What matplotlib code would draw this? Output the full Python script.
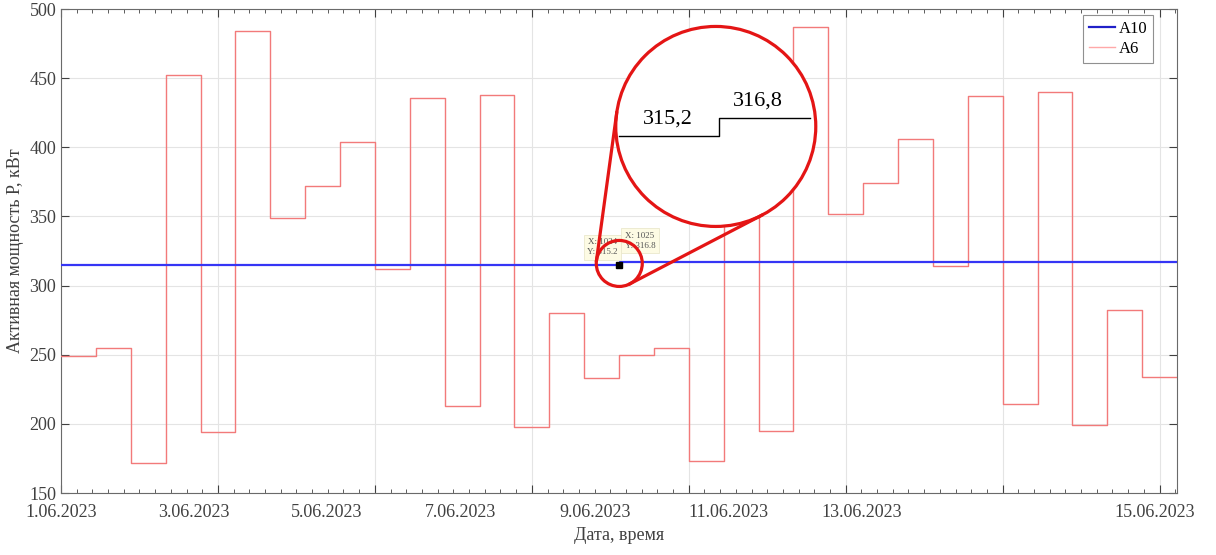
import numpy as np
import matplotlib
matplotlib.use("Agg")
import matplotlib.pyplot as plt
from matplotlib.patches import Circle
from matplotlib.lines import Line2D
from matplotlib.transforms import IdentityTransform, blended_transform_factory

plt.rcParams['font.family'] = ['Liberation Serif', 'DejaVu Serif']

# Data: 10-minute samples, A6 changes every 64 samples
a6_edges = np.arange(0, 2048 + 1, 64)
a6_values = [249, 254.5, 172, 452, 194, 484, 349, 372, 404, 312, 436, 213,
             438, 198, 280, 233, 250, 255, 173, 454, 195, 487, 352, 374,
             406, 314, 437, 214, 440, 199, 282, 234]
a10_x = [0, 1024, 1025, 2048]
a10_y = [315.2, 315.2, 316.8, 316.8]

date_labels = ['1.06.2023', '3.06.2023', '5.06.2023', '7.06.2023',
               '9.06.2023', '11.06.2023', '13.06.2023', '15.06.2023']
date_pos = [0, 244, 488, 734, 980, 1224, 1470, 2008]

tip1 = (1024, 315.2)
tip2 = (1025, 316.8)

W, H = 1216, 555
fig = plt.figure(figsize=(W / 100, H / 100), dpi=100)
ax = fig.add_axes([61 / W, 1 - 493 / H, (1177 - 61) / W, (493 - 9) / H])

ax.step(a10_x, a10_y, where='post', color='#3535f5', lw=1.6, label='A10', zorder=4)
ax.step(a6_edges, a6_values + [a6_values[-1]], where='post', color='#f27a7a',
        lw=1.0, label='A6', zorder=3)

ax.set_xlim(0, 2048)
ax.set_ylim(150, 500)
ax.set_xticks(np.arange(0, 2049, 288))
ax.set_xticklabels([])
ax.set_xticks(np.arange(0, 2049, 28.8), minor=True)
ax.set_yticks(np.arange(150, 501, 50))
ax.grid(True, which='major', color='#e4e4e4', lw=0.8, zorder=0)
ax.tick_params(which='both', direction='in', top=True, right=True,
               colors='#404040', labelsize=13)
ax.tick_params(which='major', length=6)
ax.tick_params(which='minor', length=3)
for s in ax.spines.values():
    s.set_color('#6a6a6a')
    s.set_linewidth(0.8)

trans = blended_transform_factory(ax.transData, ax.transAxes)
for p, lab in zip(date_pos, date_labels):
    ax.text(p, -0.022, lab, transform=trans, ha='center', va='top',
            fontsize=13, color='#404040')
ax.set_xlabel('Дата, время', fontsize=13, color='#404040', labelpad=21)
ax.set_ylabel('Активная мощность P, кВт', fontsize=13, color='#404040', labelpad=4)

leg = ax.legend(loc='upper right', bbox_to_anchor=(0.9785, 0.988), fontsize=12,
                handlelength=1.6, handletextpad=0.2, borderpad=0.35,
                labelspacing=0.25, fancybox=False, framealpha=1,
                borderaxespad=0)
leg.get_frame().set_edgecolor('#909090')
leg.get_frame().set_linewidth(0.8)
leg.get_lines()[0].set_color('#2020c8')
leg.get_lines()[1].set_color('#ffa8a8')

# datatips
ax.plot(*tip1, marker='s', color='black', ms=4.5, zorder=6)
ax.annotate('X: 1024\nY: 315.2', tip1, xytext=(-1, 6), textcoords='offset points',
            ha='right', va='bottom', fontsize=6.5, color='#555555', zorder=5,
            linespacing=1.3,
            bbox=dict(boxstyle='square,pad=0.4', fc='#fdfbe4', ec='#ebe8cc', lw=0.6))
ax.annotate('X: 1025\nY: 316.8', tip2, xytext=(4, 9), textcoords='offset points',
            ha='left', va='bottom', fontsize=6.5, color='#555555', zorder=5,
            linespacing=1.3,
            bbox=dict(boxstyle='square,pad=0.4', fc='#fdfbe4', ec='#ebe8cc', lw=0.6))

# magnifier (display pixel coordinates)
idt = IdentityTransform()
red = '#e41515'
c1 = ax.transData.transform((1024.5, 316.0))
r1 = 23
c2 = c1 + np.array([96.5, 137.0])
r2 = 100
d = c2 - c1
D = np.hypot(*d)
u = d / D
phi = np.arccos((r2 - r1) / D)
for sgn in (1, -1):
    a = sgn * phi
    n = np.array([u[0] * np.cos(a) - u[1] * np.sin(a),
                  u[0] * np.sin(a) + u[1] * np.cos(a)])
    p1 = c1 - r1 * n
    p2 = c2 - r2 * n
    fig.add_artist(Line2D([p1[0], p2[0]], [p1[1], p2[1]], transform=idt,
                          color=red, lw=2.3, zorder=10))
fig.add_artist(Circle(c1, r1, transform=idt, fc='none', ec=red, lw=2.3, zorder=10))
fig.add_artist(Circle(c2, r2, transform=idt, fc='white', ec=red, lw=2.3, zorder=9))

sx = [c2[0] - 96.5, c2[0] + 3.5, c2[0] + 3.5, c2[0] + 94]
sy = [c2[1] - 9.8, c2[1] - 9.8, c2[1] + 8.5, c2[1] + 8.5]
fig.add_artist(Line2D(sx, sy, transform=idt, color='black', lw=1.0, zorder=11))
fig.text(c2[0] - 48, c2[1] + 7, '315,2', transform=idt, ha='center', va='center',
         fontsize=16, zorder=11)
fig.text(c2[0] + 42, c2[1] + 25, '316,8', transform=idt, ha='center', va='center',
         fontsize=16, zorder=11)

fig.savefig('out.png', dpi=100)
